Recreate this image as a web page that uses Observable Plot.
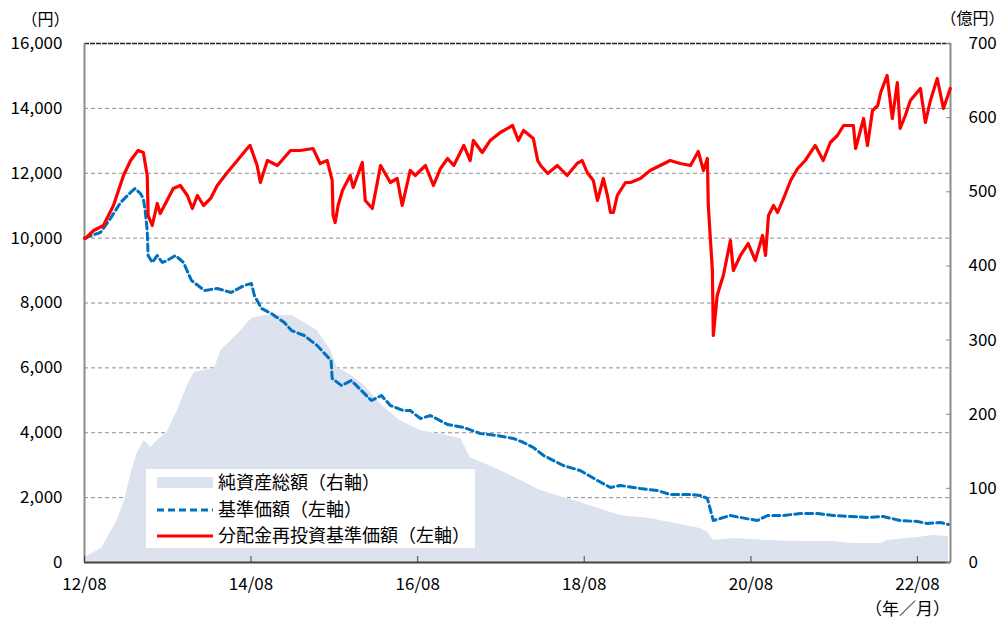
<!DOCTYPE html>
<html>
<head>
<meta charset="utf-8">
<script src="https://cdn.jsdelivr.net/npm/d3@7"></script>
<script src="https://cdn.jsdelivr.net/npm/@observablehq/plot@0.6"></script>
<style>
  html, body { margin: 0; padding: 0; background: #fff; }
  #wrap { position: relative; width: 1008px; height: 625px; font-family: 'Noto Sans CJK JP', 'Noto Sans', sans-serif; }
  #legend { position: absolute; left: 146px; top: 469px; }
</style>
</head>
<body>
<div id="wrap"></div>
<script>
// 分配金再投資基準価額（左軸, 円）
const reinvested = [
["2012-08-01",10000],["2012-08-05",9989],["2012-09-10",10235],["2012-10-23",10389],["2012-12-06",11006],
["2013-01-19",11931],["2013-02-19",12393],["2013-03-24",12702],["2013-04-16",12640],["2013-05-03",11931],
["2013-05-07",10698],["2013-05-25",10389],["2013-06-16",11068],["2013-06-29",10759],["2013-07-29",11160],
["2013-08-25",11530],["2013-09-25",11623],["2013-10-26",11314],["2013-11-17",10913],["2013-12-09",11314],
["2014-01-05",11006],["2014-02-05",11222],["2014-03-06",11623],["2014-04-19",12023],["2014-06-02",12393],
["2014-07-15",12763],["2014-07-28",12856],["2014-08-28",12239],["2014-09-11",11715],["2014-10-12",12393],
["2014-11-25",12239],["2015-01-21",12702],["2015-03-04",12702],["2015-04-30",12763],["2015-05-31",12301],
["2015-07-01",12393],["2015-07-23",11777],["2015-07-27",10698],["2015-08-05",10482],["2015-08-18",11006],
["2015-09-06",11468],["2015-10-10",11931],["2015-10-23",11561],["2015-12-02",12332],["2015-12-15",11160],
["2016-01-15",10913],["2016-02-20",12239],["2016-04-03",11715],["2016-05-03",11838],["2016-05-25",11006],
["2016-06-29",12085],["2016-07-21",11931],["2016-09-04",12239],["2016-10-09",11623],["2016-11-09",12147],
["2016-12-10",12455],["2017-01-06",12239],["2017-02-19",12856],["2017-03-19",12393],["2017-04-02",13010],
["2017-05-11",12640],["2017-06-15",13010],["2017-07-29",13256],["2017-09-21",13472],["2017-10-16",13010],
["2017-11-08",13318],["2017-12-21",13071],["2018-01-09",12393],["2018-01-22",12239],["2018-02-22",11992],
["2018-04-05",12239],["2018-05-18",11931],["2018-07-01",12301],["2018-07-23",12393],["2018-08-14",12023],
["2018-09-10",11777],["2018-09-28",11160],["2018-10-24",11838],["2018-11-11",11314],["2018-11-24",10790],
["2018-12-07",10790],["2018-12-24",11314],["2019-01-29",11715],["2019-02-20",11715],["2019-04-04",11838],
["2019-05-17",12085],["2019-06-30",12239],["2019-08-13",12393],["2019-09-26",12301],["2019-11-10",12239],
["2019-12-14",12671],["2020-01-06",12085],["2020-01-23",12455],["2020-01-27",11006],["2020-02-14",9002],
["2020-02-18",6998],["2020-03-06",8231],["2020-03-19",8540],["2020-04-02",8848],["2020-05-03",9927],
["2020-05-16",9002],["2020-06-16",9465],["2020-07-20",9834],["2020-08-20",9310],["2020-09-21",10081],
["2020-10-04",9465],["2020-10-17",10698],["2020-11-08",11006],["2020-11-26",10790],["2020-12-22",11222],
["2021-01-22",11777],["2021-02-22",12147],["2021-03-27",12393],["2021-05-10",12856],["2021-06-14",12393],
["2021-07-15",12948],["2021-08-15",13164],["2021-09-11",13472],["2021-10-24",13472],["2021-11-03",12763],
["2021-12-08",13688],["2021-12-25",12856],["2022-01-16",13935],["2022-02-08",14089],["2022-02-21",14490],
["2022-03-21",15014],["2022-04-13",13688],["2022-05-05",14798],["2022-05-17",13380],["2022-06-09",13781],
["2022-07-01",14243],["2022-08-14",14613],["2022-09-05",13565],["2022-09-27",14243],["2022-10-27",14921],
["2022-11-23",13996],["2022-12-23",14613]
];

// 基準価額（左軸, 円）
const nav = [
["2012-08-01",10000],["2012-10-10",10174],["2012-11-23",10605],["2013-01-06",11098],["2013-02-19",11407],
["2013-03-11",11530],["2013-04-03",11376],["2013-04-16",11222],["2013-04-24",10852],["2013-05-03",10235],
["2013-05-07",9465],["2013-05-25",9249],["2013-06-16",9465],["2013-07-08",9249],["2013-07-29",9310],
["2013-09-04",9465],["2013-10-09",9249],["2013-11-13",8694],["2014-01-09",8385],["2014-03-06",8447],
["2014-05-06",8324],["2014-07-02",8540],["2014-08-03",8601],["2014-08-16",8231],["2014-09-16",7831],
["2014-10-29",7676],["2014-12-25",7399],["2015-01-26",7152],["2015-03-22",6998],["2015-05-18",6690],
["2015-07-18",6227],["2015-07-23",5673],["2015-09-02",5457],["2015-10-15",5611],["2015-11-28",5303],
["2016-01-11",4994],["2016-02-24",5148],["2016-04-03",4840],["2016-05-30",4686],["2016-06-29",4686],
["2016-08-13",4439],["2016-09-26",4532],["2016-12-10",4254],["2017-02-19",4162],["2017-05-02",3977],
["2017-07-16",3915],["2017-09-25",3823],["2017-11-08",3699],["2017-12-21",3545],["2018-02-04",3299],
["2018-05-01",2990],["2018-07-14",2836],["2018-09-28",2528],["2018-11-24",2312],["2019-01-07",2374],
["2019-04-04",2281],["2019-06-17",2220],["2019-08-13",2096],["2019-11-10",2096],["2019-12-23",2066],
["2020-01-23",1973],["2020-02-06",1603],["2020-02-18",1295],["2020-03-19",1356],["2020-05-03",1449],
["2020-06-16",1387],["2020-08-29",1295],["2020-10-13",1449],["2020-12-22",1449],["2021-03-05",1511],
["2021-05-19",1511],["2021-07-28",1449],["2021-10-11",1418],["2021-12-25",1387],["2022-03-04",1418],
["2022-05-17",1295],["2022-08-01",1264],["2022-09-14",1202],["2022-11-10",1233],["2022-12-15",1172]
];

// 純資産総額（右軸, 億円）
const netAssets = [
["2012-08-01",6.7],["2012-10-14",18.9],["2012-12-23",56.6],["2013-01-24",83.6],["2013-02-24",124.1],
["2013-03-20",147.0],["2013-04-20",164.5],["2013-05-20",155.1],["2013-06-16",164.5],["2013-07-29",175.3],
["2013-09-13",205.0],["2013-10-26",238.7],["2013-11-26",256.3],["2014-01-09",259.0],["2014-02-22",261.6],
["2014-03-23",285.9],["2014-05-06",299.4],["2014-06-19",312.9],["2014-08-03",329.1],["2014-09-29",333.1],
["2014-11-25",333.1],["2015-01-26",333.1],["2015-03-22",323.7],["2015-05-18",312.9],["2015-07-18",285.9],
["2015-08-14",263.0],["2015-10-15",252.2],["2015-12-11",238.7],["2016-02-07",218.5],["2016-03-07",209.0],
["2016-05-16",191.5],["2016-08-13",178.0],["2017-02-06",167.2],["2017-03-19",141.6],["2017-07-29",124.1],
["2018-01-22",97.1],["2018-07-14",80.9],["2019-01-07",63.4],["2019-05-17",59.3],["2019-12-23",45.9],
["2020-01-27",40.5],["2020-02-18",29.7],["2020-05-16",32.4],["2020-10-13",29.7],["2021-03-05",28.3],
["2021-07-28",28.3],["2021-10-24",25.6],["2022-02-21",25.6],["2022-03-21",29.7],["2022-08-01",33.7],
["2022-10-10",36.4],["2022-12-15",35.1]
];

const xDomain = ["2012-08-01", "2022-12-24"];
const xTickDates = ["2012-08-01","2014-08-01","2016-08-01","2018-08-01","2020-08-01","2022-08-01"];
const leftTicks = [0,2000,4000,6000,8000,10000,12000,14000,16000];
const gridValues = [2000,4000,6000,8000,10000,12000,14000];
const rightTicks = [0,100,200,300,400,500,600,700];
const leftMax = 16000, rightMax = 700;
const unitLeft = "（円）", unitRight = "（億円）", unitX = "（年／月）";
const legendLabels = ["純資産総額（右軸）", "基準価額（左軸）", "分配金再投資基準価額（左軸）"];

const ratio = leftMax / rightMax;
const parse = d3.utcParse("%Y-%m-%d");
const toRows = arr => arr.map(([d, v]) => ({date: parse(d), value: v}));
const reinvRows = toRows(reinvested);
const navRows = toRows(nav);
const assetRows = toRows(netAssets).map(r => ({date: r.date, value: r.value * ratio}));
const xStart = parse(xDomain[0]), xEnd = parse(xDomain[1]);

const colors = {area: "#dce3ef", nav: "#0070C0", reinv: "#FF0000", grid: "#8c8c8c", frame: "#8c8c8c"};
const fontStack = "'Noto Sans CJK JP', 'Noto Sans', sans-serif";

const chart = Plot.plot({
  width: 1008,
  height: 625,
  marginLeft: 84,
  marginRight: 58,
  marginTop: 43,
  marginBottom: 63,
  style: {fontFamily: fontStack, fontSize: "17px", color: "#000", background: "#fff"},
  x: {type: "utc", domain: [xStart, xEnd]},
  y: {domain: [0, leftMax]},
  marks: [
    Plot.gridY(gridValues, {stroke: colors.grid, strokeOpacity: 1, strokeWidth: 1, strokeDasharray: "4,3"}),
    Plot.areaY(assetRows, {x: "date", y: "value", fill: colors.area}),
    Plot.ruleY([leftMax], {stroke: "#222", strokeWidth: 1.5, strokeDasharray: "5,1"}),
    Plot.ruleX([xStart], {stroke: colors.frame, strokeWidth: 2}),
    Plot.ruleX([xEnd], {stroke: colors.frame, strokeWidth: 2}),
    Plot.ruleY([0], {stroke: "#444", strokeWidth: 2}),
    Plot.axisY({anchor: "left", ticks: leftTicks, tickSize: 0, tickPadding: 22, tickFormat: d3.format(","), label: null}),
    Plot.axisY({anchor: "right", ticks: rightTicks.map(v => v * ratio), tickSize: -5, tickPadding: 23,
      tickFormat: d => String(Math.round(d / ratio)), stroke: colors.frame, label: null}),
    Plot.axisX({ticks: xTickDates.map(parse), tickSize: -6, tickPadding: 21, tickFormat: d3.utcFormat("%y/%m"),
      stroke: "#444", label: null}),
    Plot.lineY(navRows, {x: "date", y: "value", stroke: colors.nav, strokeWidth: 3, strokeDasharray: "7,4"}),
    Plot.lineY(reinvRows, {x: "date", y: "value", stroke: colors.reinv, strokeWidth: 3.2}),
    Plot.text([unitLeft], {frameAnchor: "top-left", dx: -39, dy: -30, textAnchor: "middle", fontSize: 16}),
    Plot.text([unitRight], {frameAnchor: "top-right", dx: 22, dy: -31, textAnchor: "middle", fontSize: 16}),
    Plot.text([unitX], {frameAnchor: "bottom-right", dx: -43, dy: 52, textAnchor: "middle", fontSize: 17})
  ]
});

const wrap = document.getElementById("wrap");
wrap.appendChild(chart);

// Legend (overlay inside the plot area)
const lg = d3.select(wrap).append("svg").attr("id", "legend")
  .attr("width", 360).attr("height", 79)
  .style("font-family", fontStack).style("font-size", "18px").style("overflow", "visible");
lg.append("rect").attr("width", 329).attr("height", 79).attr("fill", "#fff");
lg.append("rect").attr("x", 11).attr("y", 8).attr("width", 56).attr("height", 11).attr("fill", colors.area);
lg.append("line").attr("x1", 11).attr("x2", 67).attr("y1", 41).attr("y2", 41)
  .attr("stroke", colors.nav).attr("stroke-width", 3).attr("stroke-dasharray", "7,4");
lg.append("line").attr("x1", 11).attr("x2", 67).attr("y1", 67).attr("y2", 67)
  .attr("stroke", colors.reinv).attr("stroke-width", 3);
[14, 41, 67].forEach((cy, i) => {
  lg.append("text").attr("x", 72).attr("y", cy).attr("dy", "0.36em").attr("fill", "#000").text(legendLabels[i]);
});
</script>
</body>
</html>
